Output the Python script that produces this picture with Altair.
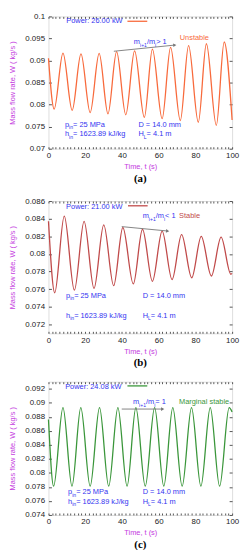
import altair as alt
import pandas as pd

# ---------------- data ----------------
t_a = [0, 3.1, 7.9, 12.9, 17.7, 22.7, 27.6, 32.4, 37.1, 42.1, 46.9, 52.2, 56.6, 61.9, 66.5, 71.8, 76.3, 81.6, 86.0, 91.4, 95.7, 100]
w_a = [0.0905, 0.0790, 0.0917, 0.0787, 0.0915, 0.0782, 0.0916, 0.0779, 0.0920, 0.0777, 0.0922, 0.0771,
       0.0926, 0.0768, 0.0930, 0.0764, 0.0934, 0.0760, 0.0938, 0.0753, 0.0942, 0.0765]

t_b = [0, 3.4, 8.6, 14.1, 19.4, 24.8, 30.1, 35.5, 40.5, 46.2, 51.2, 56.6, 61.9, 67.3, 72.5, 78.0, 83.2, 88.7, 94.0, 99.3, 100]
w_b = [0.0837, 0.0756, 0.0843, 0.0759, 0.0837, 0.0761, 0.0833, 0.0764, 0.0830, 0.0766, 0.0828, 0.0769,
       0.0826, 0.0771, 0.0822, 0.0773, 0.0820, 0.0775, 0.0819, 0.0777, 0.0778]

t_c = [0, 2.8, 7.9, 12.8, 17.6, 22.7, 27.8, 32.8, 37.8, 42.8, 47.6, 52.7, 57.8, 62.8, 67.7, 72.8, 77.9, 83.0, 88.1, 93.2, 98.4, 100]
w_c = [0.0876, 0.0781, 0.0893, 0.0781, 0.0893, 0.0781, 0.0893, 0.0781, 0.0893, 0.0781, 0.0893, 0.0781,
       0.0893, 0.0781, 0.0893, 0.0781, 0.0893, 0.0781, 0.0893, 0.0781, 0.0893, 0.0887]

y_ticks_a = [0.07, 0.075, 0.08, 0.085, 0.09, 0.095, 0.1]
y_ticks_b = [0.072, 0.074, 0.076, 0.078, 0.08, 0.082, 0.084, 0.086]
y_ticks_c = [0.074, 0.076, 0.078, 0.08, 0.082, 0.084, 0.086, 0.088, 0.09, 0.092]
y_dom_a = [0.07, 0.1]
y_dom_b = [0.071, 0.086]
y_dom_c = [0.074, 0.0930]
x_minor = list(range(0, 101, 2))

powers = ["Power: 26.00 kW", "Power: 21.00 kW", "Power: 24.08 kW"]
ratio_ops = [" > 1", " < 1", " = 1"]
statuses = ["Unstable", "Stable", "Marginal stable"]
captions = ["(a)", "(b)", "(c)"]
colors = ["#f86a3c", "#c04a4a", "#3a963a"]

# annotation anchors (data coordinates)
ann_a = dict(power=(9.7, 0.0989), leg=(43.0, 53.8, 0.0989), ratio=(46.5, 0.0942), status=(71.5, 0.0950),
             arrow=(35.6, 0.0921, 68.8, 0.0935), p=(9.0, 0.0754), h=(9.0, 0.0733), D=(49.0, 0.0754), H=(49.0, 0.0733))
ann_b = dict(power=(9.6, 0.08535), leg=(43.3, 54.0, 0.08546), ratio=(51.3, 0.08426), status=(71.1, 0.08426),
             arrow=(39.9, 0.0831, 64.9, 0.0826), p=(9.6, 0.07525), h=(9.6, 0.0730), D=(51.3, 0.07525), H=(51.3, 0.0730))
ann_c = dict(power=(9.1, 0.09227), leg=(43.0, 53.8, 0.09240), ratio=(46.0, 0.0901), status=(71.1, 0.0901),
             arrow=(39.9, 0.0891, 62.2, 0.0891), p=(10.7, 0.07727), h=(10.7, 0.0759), D=(51.3, 0.07727), H=(51.3, 0.0759))
arrow_angles = [354, 6, 0]

BLUE = "#3434f0"
MAG = "#c43be0"
FONT = "Liberation Sans"
FS = 7.5

W_TAB = {' ': 278, '.': 278, ':': 278, '=': 584, '/': 278, '+': 584, '<': 584, '>': 584, 'i': 222, 'l': 222,
         'r': 333, 't': 278, 'k': 500, 's': 500, 'J': 500, 'W': 944, 'w': 722, 'm': 833, 'M': 833, 'D': 722,
         'H': 722, 'P': 667, 'S': 667, 'U': 722, 'L': 556, 'f': 278, 'j': 222}


def tw(s, size):
    return sum(W_TAB.get(c, 556) for c in s) * size / 1000.0


def rich(pos, segs, color, xs, ys):
    charts = []
    dx = 0.0
    df = pd.DataFrame({"t": [pos[0]], "w": [pos[1]]})
    for txt, kind in segs:
        size = FS if kind == "n" else FS * 0.68
        dy = 0 if kind == "n" else 2.6
        charts.append(alt.Chart(df).mark_text(text=txt, align="left", baseline="middle", font=FONT,
                                              fontSize=size, color=color, dx=dx, dy=dy)
                      .encode(x=alt.X("t:Q", scale=xs, axis=None), y=alt.Y("w:Q", scale=ys, axis=None)))
        dx += tw(txt, size)
    return charts


def panel(t, w, color, ydom, yticks, power, op, status, cap, ann, angle, height):
    xs = alt.Scale(domain=[0, 100], nice=False, zero=False)
    ys = alt.Scale(domain=ydom, nice=False, zero=False)
    df = pd.DataFrame({"t": t, "w": w})
    main = alt.Chart(df).mark_line(color=color, strokeWidth=1.3, interpolate="monotone").encode(
        x=alt.X("t:Q", scale=xs, axis=alt.Axis(
            values=x_minor, labelExpr="datum.value % 20 === 0 ? datum.label : ''",
            title="Time, t (s)", titleColor=MAG, titleFont=FONT, titleFontSize=7.5, titleFontWeight="normal",
            titlePadding=3, labelFont=FONT, labelFontSize=8, labelColor="#222", labelPadding=3,
            labelFlush=False, labelOverlap=False, tickSize=2, offset=-2, domain=False, grid=False,
            tickColor="#555")),
        y=alt.Y("w:Q", scale=ys, axis=alt.Axis(
            values=yticks, format="~g", title="Mass flow rate, W ( kg/s )", titleColor=MAG, titleFont=FONT,
            titleFontSize=7.5, titleFontWeight="normal", titlePadding=8, labelFont=FONT, labelFontSize=8,
            labelColor="#222", labelPadding=4, labelOverlap=False, tickSize=3, offset=-3, domain=False,
            grid=False, tickColor="#555")),
    )
    mirror = alt.Chart(df).mark_line(opacity=0).encode(
        x=alt.X("t:Q", scale=xs, axis=alt.Axis(orient="top", values=x_minor, labels=False, title=None,
                                              tickSize=2, offset=-2, domain=False, grid=False, tickColor="#555",
                                              minExtent=0, maxExtent=0, labelPadding=0)),
        y=alt.Y("w:Q", scale=ys, axis=alt.Axis(orient="right", values=yticks, labels=False, title=None,
                                              tickSize=3, offset=-3, domain=False, grid=False, tickColor="#555",
                                              minExtent=0, maxExtent=0, labelPadding=0)),
    )
    layers = [main, mirror]
    lg = ann["leg"]
    leg_df = pd.DataFrame({"t": [lg[0]], "t2": [lg[1]], "w": [lg[2]]})
    layers.append(alt.Chart(leg_df).mark_rule(color=color, strokeWidth=1.3).encode(
        x=alt.X("t:Q", scale=xs, axis=None), x2="t2:Q", y=alt.Y("w:Q", scale=ys, axis=None)))
    ar = ann["arrow"]
    ar_df = pd.DataFrame({"t": [ar[0], ar[2]], "w": [ar[1], ar[3]]})
    layers.append(alt.Chart(ar_df).mark_line(color="#777", strokeWidth=0.9).encode(
        x=alt.X("t:Q", scale=xs, axis=None), y=alt.Y("w:Q", scale=ys, axis=None)))
    head_df = pd.DataFrame({"t": [ar[2]], "w": [ar[3]]})
    layers.append(alt.Chart(head_df).mark_point(shape="triangle-right", filled=True, color="#777", size=14,
                                                angle=angle, opacity=1).encode(
        x=alt.X("t:Q", scale=xs, axis=None), y=alt.Y("w:Q", scale=ys, axis=None)))
    layers += rich(ann["power"], [(power, "n")], BLUE, xs, ys)
    layers += rich(ann["ratio"], [("m", "n"), ("i+1", "s"), ("/m", "n"), ("i", "s"), (op, "n")], BLUE, xs, ys)
    layers += rich(ann["status"], [(status, "n")], color, xs, ys)
    layers += rich(ann["p"], [("p", "n"), ("in", "s"), (" = 25 MPa", "n")], BLUE, xs, ys)
    layers += rich(ann["h"], [("h", "n"), ("in", "s"), (" = 1623.89 kJ/kg", "n")], BLUE, xs, ys)
    layers += rich(ann["D"], [("D = 14.0 mm", "n")], BLUE, xs, ys)
    layers += rich(ann["H"], [("H", "n"), ("L", "s"), (" = 4.1 m", "n")], BLUE, xs, ys)
    return alt.layer(*layers).resolve_axis(x="independent", y="independent").properties(
        width=186, height=height,
        title=alt.TitleParams(cap, orient="bottom", anchor="middle", frame="group", font="Liberation Serif",
                              fontSize=11, fontWeight="bold", color="#000", offset=3))


pa = panel(t_a, w_a, colors[0], y_dom_a, y_ticks_a, powers[0], ratio_ops[0], statuses[0], captions[0], ann_a,
           arrow_angles[0], 134)
pb = panel(t_b, w_b, colors[1], y_dom_b, y_ticks_b, powers[1], ratio_ops[1], statuses[1], captions[1], ann_b,
           arrow_angles[1], 134)
pc = panel(t_c, w_c, colors[2], y_dom_c, y_ticks_c, powers[2], ratio_ops[2], statuses[2], captions[2], ann_c,
           arrow_angles[2], 135)

chart = alt.vconcat(pa, pb, pc, spacing=12).properties(
    padding={"top": 0, "left": 0, "right": 0, "bottom": 0}).configure_view(
    stroke="#444", strokeWidth=1).configure(background="white")

chart.save("out.html", embed_options={"renderer": "svg", "actions": False})
